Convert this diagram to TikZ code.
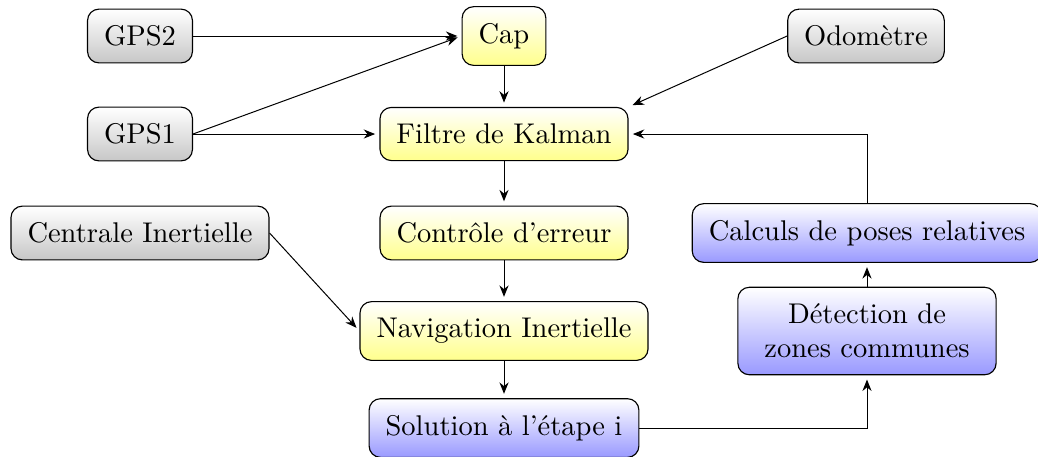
\documentclass[tikz,border=0pt]{standalone}
\usetikzlibrary{arrows.meta,calc}
\tikzset{
  box/.style={draw, rounded corners=4pt, inner sep=5.8pt, line width=0.4pt},
  graybox/.style={box, top color=white, bottom color=black!22},
  yellowbox/.style={box, top color=white, bottom color=yellow!45},
  bluebox/.style={box, top color=white, bottom color=blue!40},
  arr/.style={-{Stealth[length=4pt,width=3.2pt]}, shorten >=1.5pt, line width=0.35pt}
}
\begin{document}
\begin{tikzpicture}[x=0.3509pt,y=-0.3509pt]
\useasboundingbox (0,0) rectangle (1038,456);
\node[graybox] (gps2) at (140,36) {GPS2};
\node[yellowbox] (cap) at (504,36) {Cap};
\node[graybox] (odo) at (866,36) {Odomètre};
\node[graybox] (gps1) at (140,134) {GPS1};
\node[yellowbox] (kal) at (504,134) {Filtre de Kalman};
\node[graybox] (cen) at (140,233) {Centrale Inertielle};
\node[yellowbox] (ctl) at (504,233) {Contrôle d'erreur};
\node[bluebox] (calc) at (867,233) {Calculs de poses relatives};
\node[yellowbox] (nav) at (504,331) {Navigation Inertielle};
\node[bluebox, text width=79pt, align=center] (det) at (867,331) {Détection de\\zones communes};
\node[bluebox] (sol) at (504,428) {Solution à l'étape i};

\draw[arr] (gps2.east) -- (cap.west);
\draw[arr] (gps1.east) -- (cap.west);
\draw[arr] (gps1.east) -- (kal.west);
\draw[arr] (odo.west) -- (kal.north east);
\draw[arr] (cap.south) -- (kal.north);
\draw[arr] (kal.south) -- (ctl.north);
\draw[arr] (ctl.south) -- (nav.north);
\draw[arr] (cen.east) -- (nav.west);
\draw[arr] (nav.south) -- (sol.north);
\draw[arr] (sol.east) -| (det.south);
\draw[arr] (det.north) -- (calc.south);
\draw[arr] (calc.north) |- (kal.east);
\end{tikzpicture}
\end{document}
